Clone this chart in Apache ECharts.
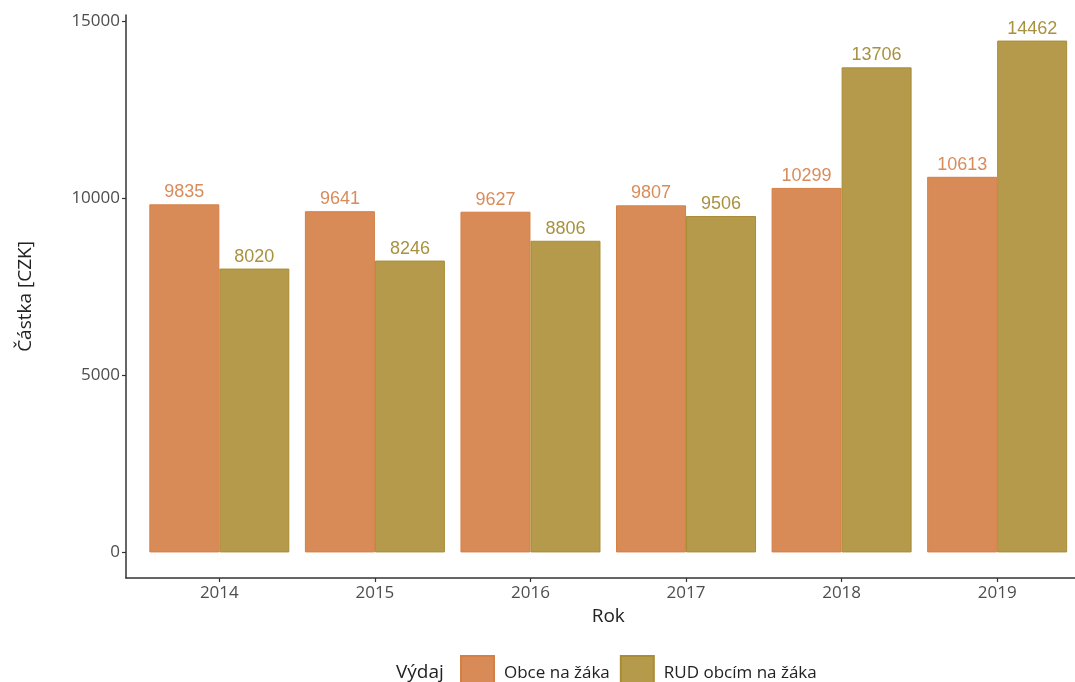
<!DOCTYPE html>
<html>
<head>
<meta charset="utf-8">
<script src="https://cdn.jsdelivr.net/npm/echarts@6/dist/echarts.min.js"></script>
<style>
html,body{margin:0;padding:0;background:#fff;overflow:hidden;}
#chart{width:1091px;height:682px;}
</style>
</head>
<body>
<div id="chart"></div>
<script>
const years = ['2014', '2015', '2016', '2017', '2018', '2019'];
const obce = [9835, 9641, 9627, 9807, 10299, 10613];
const rud = [8020, 8246, 8806, 9506, 13706, 14462];
const yTicks = [0, 5000, 10000, 15000];
const seriesNames = ['Obce na žáka', 'RUD obcím na žáka'];

const xPos = years.map((y, i) => i + 1);
const chart = echarts.init(document.getElementById('chart'));
const axisColor = '#333333';
const tickLabelStyle = { color: '#4d4d4d', fontFamily: 'Open Sans', fontSize: 17 };

chart.setOption({
  backgroundColor: '#ffffff',
  animation: false,
  title: {
    text: 'Výdaj', left: 391, top: 658,
    textStyle: { fontFamily: 'Open Sans', fontSize: 19, fontWeight: 'normal', color: '#222' }
  },
  legend: {
    left: 460, top: 655, padding: 0, itemWidth: 33, itemHeight: 34, itemGap: 10,
    icon: 'rect',
    data: seriesNames,
    textStyle: { fontFamily: 'Open Sans', fontSize: 17, color: '#222', padding: [0, 0, 0, 5] }
  },
  grid: { left: 126, right: 0.5, top: 15, bottom: 104, containLabel: false },
  xAxis: {
    type: 'value', min: 0.4, max: 6.6,
    name: 'Rok', nameLocation: 'middle', nameGap: 28,
    nameTextStyle: { fontFamily: 'Open Sans', fontSize: 19, color: '#222' },
    splitLine: { show: false },
    axisLine: { show: true, onZero: false, lineStyle: { color: axisColor, width: 1.5 } },
    axisTick: { show: true, length: 4, customValues: xPos, lineStyle: { color: axisColor, width: 1.2 } },
    axisLabel: Object.assign({ customValues: xPos, margin: 7, formatter: v => years[Math.round(v) - 1] }, tickLabelStyle)
  },
  yAxis: {
    type: 'value', min: -723.1, max: 15185.1,
    name: 'Částka [CZK]', nameLocation: 'middle', nameGap: 91,
    nameTextStyle: { fontFamily: 'Open Sans', fontSize: 19, color: '#222' },
    splitLine: { show: false },
    axisLine: { show: true, onZero: false, lineStyle: { color: axisColor, width: 1.5 } },
    axisTick: { show: true, length: 4, customValues: yTicks, lineStyle: { color: axisColor, width: 1.2 } },
    axisLabel: Object.assign({ customValues: yTicks, margin: 6, formatter: v => String(v) }, tickLabelStyle)
  },
  series: [
    {
      name: seriesNames[0], type: 'bar', barWidth: '45%', barGap: '0%',
      data: obce.map((v, i) => [xPos[i], v]),
      itemStyle: { color: '#d98b57', borderColor: '#d47f45', borderWidth: 1 },
      label: { show: true, position: 'top', distance: 3, color: '#d98b5a', fontFamily: 'Liberation Sans', fontSize: 18 }
    },
    {
      name: seriesNames[1], type: 'bar', barWidth: '45%', barGap: '0%',
      data: rud.map((v, i) => [xPos[i], v]),
      itemStyle: { color: '#b69a4b', borderColor: '#a98c34', borderWidth: 1 },
      label: { show: true, position: 'top', distance: 3, color: '#a8923f', fontFamily: 'Liberation Sans', fontSize: 18 }
    }
  ]
});
</script>
</body>
</html>
